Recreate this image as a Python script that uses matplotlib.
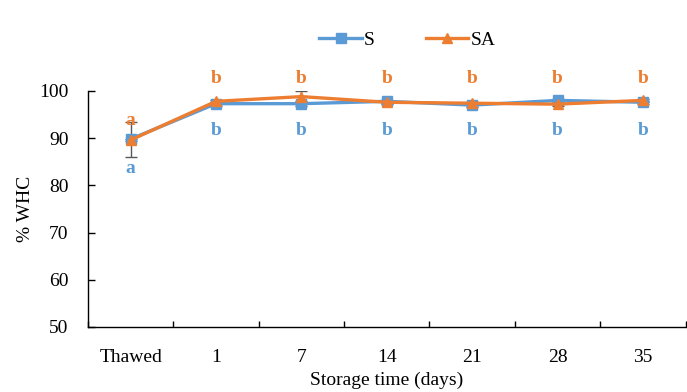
import matplotlib.pyplot as plt
import numpy as np

plt.rcParams['font.family'] = ['Liberation Serif', 'DejaVu Serif']

days = ['Thawed', '1', '7', '14', '21', '28', '35']
whc_s = [89.8, 97.3, 97.3, 97.8, 97.0, 98.0, 97.6]
whc_sa = [89.6, 97.8, 98.8, 97.6, 97.4, 97.2, 98.0]
err_s = [3.7, 0.4, 0.5, 0.3, 0.4, 0.3, 0.3]
err_sa = [0.3, 0.3, 1.2, 0.3, 0.3, 0.3, 0.3]
letters_s = ['a', 'b', 'b', 'b', 'b', 'b', 'b']
letters_sa = ['a', 'b', 'b', 'b', 'b', 'b', 'b']

blue = '#5B9BD5'
orange = '#ED7D31'
fs = 14

fig = plt.figure(figsize=(6.87, 3.92), dpi=100)
ax = fig.add_axes([0.128, 0.166, 0.870, 0.602])
x = np.arange(len(days))

ax.errorbar(x, whc_s, yerr=err_s, fmt='none', ecolor='#595959',
            elinewidth=1, capsize=4, zorder=1)
ax.errorbar(x, whc_sa, yerr=err_sa, fmt='none', ecolor='#595959',
            elinewidth=1, capsize=4, zorder=1)
ax.plot(x, whc_s, color=blue, marker='s', markersize=7, linewidth=2.4,
        label='S', zorder=2)
ax.plot(x, whc_sa, color=orange, marker='^', markersize=7.5, linewidth=2.4,
        label='SA', zorder=3)

# significance letters: SA above, S below
for i in range(len(days)):
    top_sa = 93.8 if i == 0 else 102.6
    ax.text(x[i], top_sa, letters_sa[i], color=orange, fontsize=fs,
            fontweight='bold', ha='center', va='center')
    low_s = 83.6 if i == 0 else 91.6
    ax.text(x[i], low_s, letters_s[i], color=blue, fontsize=fs,
            fontweight='bold', ha='center', va='center')

ax.set_xlim(-0.5, len(days) - 0.5)
ax.set_ylim(50, 100)
ax.set_yticks([50, 60, 70, 80, 90, 100])
ax.set_xticks(x)
ax.set_xticklabels(days)
ax.set_xticks(np.arange(-0.5, len(days)), minor=True)
ax.tick_params(axis='x', which='major', length=0, pad=16, labelsize=fs)
ax.tick_params(axis='x', which='minor', direction='in', length=4, width=1)
ax.tick_params(axis='y', direction='in', length=5, width=1, labelsize=fs, pad=14)

for side in ['top', 'right']:
    ax.spines[side].set_visible(False)
for side in ['left', 'bottom']:
    ax.spines[side].set_linewidth(1)
    ax.spines[side].set_clip_on(False)

ax.set_xlabel('Storage time (days)', fontsize=fs, labelpad=4)
ax.set_ylabel('% WHC', fontsize=fs, labelpad=4)

fig.legend(loc='center', bbox_to_anchor=(0.593, 0.898), ncol=2, frameon=False,
           fontsize=fs, handlelength=2.2, columnspacing=2.6, handletextpad=0.1)

fig.savefig('out.png', dpi=100)
